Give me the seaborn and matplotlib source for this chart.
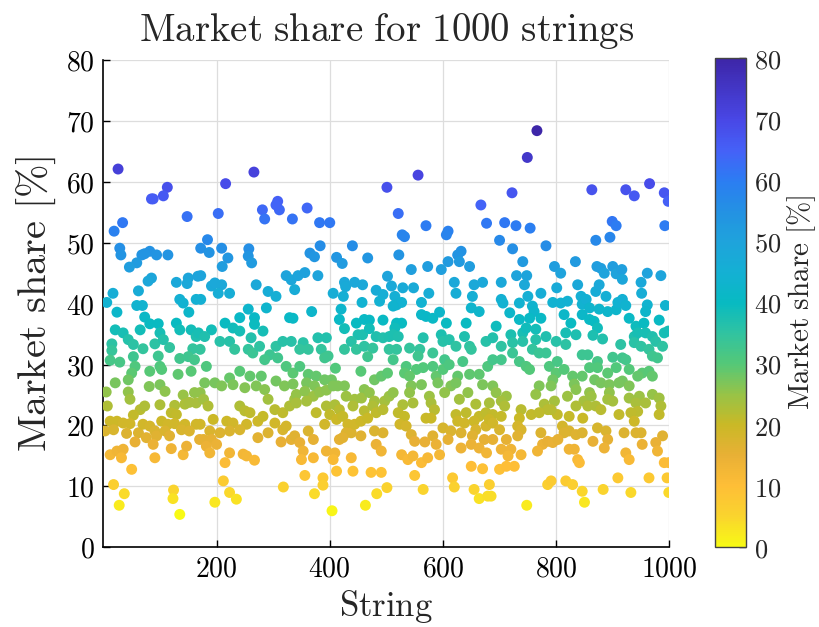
import matplotlib
matplotlib.use("Agg")
import numpy as np
import pandas as pd
import matplotlib.pyplot as plt
import seaborn as sns
from matplotlib.colors import LinearSegmentedColormap, Normalize
from matplotlib.cm import ScalarMappable

# ---- data: (string index, market share %) ----
strip_a = [(26,62.1),(113,59.1),(106,57.7),(85,57.2),(88,57.2),(148,54.3),(34,53.3),(19,51.9),(29,49.1),(31,48.0),
    (68,48.0),(82,48.6),(94,48.0),(114,48.0),(73,48.2),(59,46.7),(46,46.0),(85,44.2),(79,43.7),(150,44.2),(148,43.3),
    (129,43.5),(167,44.5),(17,41.7),(62,42.1),(6,40.2),(24,38.6),(59,39.7),(69,39.7),(135,40.7),(141,40.1),(151,38.6),
    (164,40.7),(73,37.8),(21,35.7),(35,35.2),(65,35.7),(82,36.7),(97,36.7),(100,35.2),(129,36.8),(135,35.7),(155,35.7),
    (164,34.6),(15,33.4),(15,32.3),(44,34.1),(53,33.3),(70,32.6),(91,33.4),(117,32.8),(106,34.1),(158,32.6),(12,30.7),
    (29,30.4),(53,31.3),(56,29.7),(50,28.6),(97,31.4),(100,29.7),(135,31.0),(150,31.3),(161,30.8),(82,28.9),(103,29.2),
    (132,28.4),(155,28.9),(21,27.0),(5,25.5),(44,27.5),(44,25.5),(47,24.3),(81,26.4),(100,26.7),(109,25.6),(141,25.0),
    (161,25.4),(164,23.7),(7,23.2),(65,22.6),(73,23.2),(100,23.4),(126,23.3),(120,22.1),(129,21.8),(144,23.5),(152,23.8),
    (53,21.7),(12,20.7),(24,20.7),(35,20.4),(47,20.3),(103,20.7),(114,20.2),(126,20.3),(144,20.2),(164,20.2),(3,19.1),
    (18,19.3),(41,18.7),(62,18.8),(70,20.2),(82,19.9),(91,19.1),(76,18.0),(94,18.3),(109,19.1),(117,18.3),(138,19.3),
    (152,19.1),(170,17.7),(56,17.3),(88,16.9),(12,15.2),(24,15.8),(35,16.1),(32,14.7),(91,14.7),(120,16.2),(141,15.2),
    (147,16.6),(50,12.8),(18,10.3),(37,8.8),(28,6.9),(124,9.4),(123,8.0),(135,5.4)]

strip_b = [(266,61.6),(216,59.7),(308,56.8),(311,55.4),(305,56.2),(281,55.4),(285,53.9),(334,53.9),(203,54.8),(184,50.5),
    (172,49.1),(187,48.4),(209,49.1),(220,47.5),(210,46.1),(257,49.0),(256,47.8),(262,46.7),(172,44.6),(191,42.9),
    (197,43.4),(209,43.1),(203,41.7),(223,41.7),(172,40.7),(270,43.1),(291,42.0),(288,39.3),(305,41.2),(323,44.6),
    (332,43.9),(338,42.3),(256,39.1),(241,37.7),(267,37.7),(267,36.6),(215,36.8),(229,36.0),(241,35.5),(191,35.7),
    (168,35.2),(179,34.6),(282,35.5),(261,34.4),(329,37.7),(206,33.8),(223,33.8),(232,32.5),(256,32.5),(264,31.9),
    (276,33.0),(294,31.6),(305,33.0),(317,33.8),(332,33.8),(171,32.5),(182,29.7),(285,30.8),(308,31.1),(323,29.7),
    (335,28.6),(241,28.9),(223,27.8),(259,28.1),(179,27.0),(197,27.0),(209,26.5),(279,28.1),(270,26.5),(285,25.9),
    (305,27.3),(320,26.5),(335,26.8),(250,26.2),(229,26.7),(171,25.4),(177,24.3),(185,23.2),(194,21.0),(241,23.2),
    (250,22.4),(259,22.1),(291,24.3),(303,22.6),(317,22.1),(329,23.2),(338,24.3),(218,20.7),(229,20.4),(253,20.2),
    (273,20.7),(282,21.5),(171,20.2),(188,19.1),(206,18.8),(223,19.1),(241,19.3),(303,20.4),(317,19.3),(323,19.9),
    (177,17.7),(191,17.7),(182,16.6),(200,16.9),(273,18.0),(291,18.8),(314,17.3),(332,17.7),(188,15.5),(223,15.5),
    (215,13.9),(247,15.3),(253,15.0),(267,14.3),(212,10.9),(223,9.0),(235,7.9),(197,7.4),(318,9.9)]

strip_c = [(501,59.1),(360,55.7),(382,53.3),(400,53.3),(383,49.5),(365,48.3),(373,47.7),(440,49.5),(467,47.5),(412,47.6),
    (422,46.6),(502,44.5),(344,44.6),(356,45.1),(379,44.6),(426,43.5),(428,42.8),(444,43.5),(458,43.1),(406,41.7),
    (424,41.2),(482,42.2),(494,41.5),(488,40.4),(457,40.2),(420,39.1),(368,38.7),(335,37.6),(417,37.4),(426,35.9),
    (447,36.8),(461,37.4),(470,37.3),(494,37.3),(450,34.9),(458,34.9),(470,35.9),(482,34.6),(494,34.4),(505,34.6),
    (379,34.4),(394,34.4),(353,33.6),(347,32.5),(362,32.5),(385,32.5),(391,31.1),(397,31.4),(426,32.5),(438,33.8),
    (447,32.5),(461,33.0),(476,32.7),(467,31.3),(505,32.5),(347,29.7),(362,28.4),(359,27.0),(376,28.1),(373,26.5),
    (410,29.4),(391,27.5),(403,27.5),(455,28.9),(479,27.5),(491,28.1),(502,28.6),(426,26.5),(414,26.5),(461,25.9),
    (341,25.1),(356,25.6),(371,24.8),(382,25.5),(394,25.8),(406,26.5),(429,24.8),(444,24.3),(456,24.5),(470,25.4),
    (479,24.0),(497,24.0),(505,24.8),(341,23.7),(359,24.0),(376,22.1),(394,23.2),(409,23.4),(417,22.6),(400,21.8),
    (412,21.0),(423,21.5),(441,23.2),(461,22.4),(476,23.2),(482,22.1),(494,22.6),(391,20.2),(432,20.2),(429,18.8),
    (438,18.8),(444,20.2),(455,20.7),(467,21.2),(338,18.3),(362,19.1),(371,17.7),(417,17.7),(423,18.0),(455,18.3),
    (479,19.1),(494,18.8),(482,16.9),(491,15.8),(347,17.2),(353,15.8),(350,14.4),(371,14.7),(394,15.8),(409,15.5),
    (406,14.4),(438,14.7),(356,11.8),(388,11.4),(388,10.2),(412,12.5),(441,12.5),(473,12.3),(491,12.3),(373,8.8),
    (404,6.0),(463,6.9),(483,8.8),(501,9.8)]

strip_d = [(556,61.1),(667,56.2),(677,53.2),(521,54.8),(570,52.8),(528,51.3),(532,51.0),(609,51.9),(606,51.3),(522,48.0),
    (632,48.6),(626,48.0),(629,46.9),(609,46.9),(597,45.6),(647,46.1),(544,45.6),(573,46.1),(509,42.9),(529,42.6),
    (548,42.6),(620,43.5),(623,41.7),(655,43.1),(670,43.5),(515,41.2),(518,39.8),(527,40.2),(512,39.6),(575,41.7),
    (562,40.2),(652,41.2),(650,39.3),(664,38.7),(562,38.2),(570,37.9),(582,37.6),(594,38.6),(518,36.8),(527,36.8),
    (515,36.0),(512,34.9),(606,36.8),(641,36.8),(676,33.8),(565,34.4),(597,34.9),(600,33.8),(611,34.1),(623,33.0),
    (638,34.6),(647,33.0),(650,32.5),(521,34.6),(518,32.5),(541,32.7),(559,32.5),(556,31.4),(582,31.9),(603,30.8),
    (635,30.5),(512,30.8),(535,29.7),(532,28.6),(553,29.2),(541,28.1),(565,29.5),(582,29.7),(588,28.1),(600,29.2),
    (611,30.0),(626,28.1),(647,28.4),(664,28.4),(679,29.7),(562,26.7),(544,26.5),(591,27.0),(614,26.5),(623,27.0),
    (670,26.7),(512,25.4),(541,25.4),(576,24.8),(603,25.4),(644,25.4),(529,23.4),(547,23.7),(579,23.7),(629,24.3),
    (658,23.5),(521,22.1),(532,21.5),(585,22.6),(623,21.8),(641,22.1),(664,21.5),(676,22.1),(570,21.2),(579,21.2),
    (626,20.7),(638,20.4),(655,20.7),(524,20.2),(535,19.9),(600,19.6),(614,19.1),(658,19.3),(676,19.9),(544,18.5),
    (550,17.4),(582,18.3),(588,16.9),(609,17.7),(632,18.8),(652,18.3),(673,17.7),(568,17.3),(632,16.3),(650,16.9),
    (664,16.3),(527,15.2),(538,14.4),(547,15.0),(562,13.9),(573,14.7),(594,15.2),(650,13.3),(670,12.9),(550,11.8),
    (617,11.4),(620,9.9),(565,9.5),(655,9.5),(664,8.0),(679,8.4)]

strip_e = [(766,68.4),(749,64.0),(722,58.2),(709,53.3),(729,52.8),(754,52.4),(700,50.4),(723,49.0),(782,49.5),(741,46.9),
    (730,44.6),(748,44.6),(744,43.1),(703,43.5),(797,46.1),(808,45.0),(834,46.9),(838,43.1),(801,42.6),(773,41.7),
    (703,40.7),(706,40.1),(735,40.1),(750,41.2),(758,39.6),(761,38.7),(794,40.2),(808,40.1),(820,40.4),(844,41.2),
    (846,39.9),(718,38.5),(735,37.4),(753,37.6),(773,37.6),(814,38.2),(826,36.8),(846,38.2),(694,36.3),(688,34.4),
    (720,34.9),(741,35.2),(747,36.0),(764,35.8),(782,34.6),(800,33.8),(817,35.2),(835,34.9),(817,33.3),(703,33.0),
    (723,33.6),(741,33.8),(764,34.1),(758,32.5),(770,31.9),(782,31.9),(846,31.6),(688,30.8),(703,30.8),(723,31.9),
    (735,30.5),(747,29.7),(753,29.2),(788,29.7),(802,30.5),(800,28.6),(794,27.5),(814,29.2),(829,28.1),(846,28.1),
    (688,26.5),(694,25.4),(712,24.8),(770,26.5),(764,25.1),(791,26.5),(832,26.8),(835,25.9),(820,24.8),(849,24.0),
    (682,23.7),(703,24.0),(709,23.2),(779,23.5),(785,22.6),(797,24.0),(738,22.6),(756,21.8),(770,22.1),(802,21.8),
    (823,21.5),(835,23.2),(688,21.8),(682,21.0),(703,21.5),(735,21.2),(791,22.6),(688,20.4),(700,19.3),(732,19.9),
    (738,19.3),(811,19.9),(823,19.1),(688,17.7),(712,17.7),(732,18.3),(773,18.8),(814,18.8),(835,18.5),(846,18.8),
    (776,16.9),(785,17.4),(794,17.2),(803,17.7),(823,16.1),(832,16.1),(677,15.5),(703,16.1),(720,16.1),(715,15.0),
    (738,15.2),(767,15.8),(838,14.4),(841,13.9),(700,12.8),(712,13.3),(726,13.3),(682,10.3),(685,8.4),(785,10.3),
    (791,10.9),(817,10.9),(829,10.3),(846,9.2),(748,6.9)]

strip_f = [(863,58.7),(923,58.7),(938,57.7),(965,59.7),(991,58.2),(998,56.8),(899,53.5),(906,52.8),(895,50.9),(870,50.4),
    (992,52.8),(872,46.1),(879,45.8),(885,45.0),(900,46.1),(906,44.9),(916,45.6),(917,44.0),(961,45.0),(950,43.5),
    (951,41.7),(985,44.6),(870,42.0),(876,43.1),(888,41.2),(853,40.7),(859,39.3),(876,39.1),(891,38.7),(906,39.0),
    (909,40.2),(917,40.7),(923,39.7),(961,39.8),(958,38.7),(993,39.7),(859,37.4),(867,37.1),(873,36.0),(929,37.6),
    (941,36.3),(955,36.8),(982,37.3),(865,34.8),(882,34.2),(914,33.3),(938,34.6),(944,35.2),(958,35.2),(970,34.6),
    (991,35.2),(998,35.5),(938,33.6),(950,33.0),(964,32.5),(976,33.8),(988,33.0),(970,31.4),(979,31.1),(856,31.6),
    (873,30.5),(900,31.2),(917,31.1),(923,30.8),(906,29.5),(929,29.2),(952,28.6),(964,28.9),(970,28.1),(944,28.1),
    (859,29.5),(873,29.5),(891,28.6),(868,27.5),(879,27.0),(894,26.7),(917,27.3),(929,26.5),(911,27.0),(859,25.4),
    (862,24.8),(894,25.4),(891,24.3),(900,24.0),(929,24.5),(947,24.8),(970,25.1),(982,24.5),(856,23.2),(870,23.2),
    (879,22.6),(847,21.2),(911,21.8),(941,23.7),(944,22.3),(958,23.7),(985,23.2),(932,22.1),(938,20.7),(982,21.8),
    (873,19.6),(888,19.1),(891,17.7),(920,18.8),(941,18.8),(950,18.8),(988,18.3),(865,17.4),(885,16.3),(923,15.5),
    (929,14.4),(952,16.9),(976,17.2),(979,15.8),(991,13.9),(999,13.9),(909,11.4),(964,11.4),(996,11.4),(883,9.5),
    (932,9.0),(999,9.0),(850,7.4)]

x_ticks = [200, 400, 600, 800, 1000]
y_ticks = [0, 10, 20, 30, 40, 50, 60, 70, 80]
cbar_ticks = [0, 10, 20, 30, 40, 50, 60, 70, 80]

title_text = r"$\mathrm{Market\ share\ for\ 1000\ strings}$"
xlabel_text = r"$\mathrm{String}$"
ylabel_text = r"$\mathrm{Market\ share\ [\%]}$"
cbar_label_text = r"$\mathrm{Market\ share\ [\%]}$"

# ---- styling ----
sns.set_theme(style="white")
plt.rcParams["mathtext.fontset"] = "cm"
plt.rcParams["font.family"] = ["DejaVu Serif"]

# reversed parula-like colormap (value 0 -> yellow, 80 -> indigo)
cmap = LinearSegmentedColormap.from_list("parula_r", [
    (0.0000, (0.972, 0.980, 0.080)),
    (0.0625, (0.980, 0.830, 0.180)),
    (0.1250, (0.995, 0.745, 0.215)),
    (0.1875, (0.910, 0.690, 0.210)),
    (0.2500, (0.790, 0.725, 0.150)),
    (0.3125, (0.590, 0.765, 0.280)),
    (0.3750, (0.330, 0.785, 0.470)),
    (0.4375, (0.190, 0.765, 0.630)),
    (0.5000, (0.030, 0.730, 0.760)),
    (0.5625, (0.080, 0.690, 0.830)),
    (0.6250, (0.120, 0.640, 0.860)),
    (0.6875, (0.140, 0.570, 0.890)),
    (0.7500, (0.170, 0.490, 0.950)),
    (0.8125, (0.270, 0.380, 0.970)),
    (0.8750, (0.285, 0.280, 0.900)),
    (1.0000, (0.240, 0.150, 0.660)),
])

pairs = strip_a + strip_b + strip_c + strip_d + strip_e + strip_f
df = pd.DataFrame(pairs, columns=["String", "Share"])

# points are coloured over the data range (as in the reference), colour bar shows 0-80
point_norm = Normalize(df["Share"].min(), df["Share"].max())
bar_norm = Normalize(0, 80)

fig = plt.figure(figsize=(8.19, 6.27), dpi=100)
ax = fig.add_axes([0.1262, 0.1271, 0.6911, 0.7772])
cax = fig.add_axes([0.873, 0.1271, 0.0375, 0.780])

ax.grid(True, color="#dddddd", linewidth=0.9)
ax.set_axisbelow(True)
sns.scatterplot(data=df, x="String", y="Share", hue="Share", palette=cmap,
                hue_norm=point_norm, s=62, linewidth=0, legend=False, ax=ax, zorder=3)

ax.set_xlim(0, 1000)
ax.set_ylim(0, 80)
ax.set_xticks(x_ticks, labels=[f"${t}$" for t in x_ticks])
ax.set_yticks(y_ticks, labels=[f"${t}$" for t in y_ticks])
ax.tick_params(direction="in", length=5, width=1, labelsize=20, colors="black",
               bottom=True, left=True, pad=6)
for side in ["top", "right"]:
    ax.spines[side].set_visible(False)
for side in ["left", "bottom"]:
    ax.spines[side].set_color("black")
    ax.spines[side].set_linewidth(1.2)

ax.set_title(title_text, fontsize=28, pad=14)
ax.set_xlabel(xlabel_text, fontsize=25, labelpad=4)
ax.set_ylabel(ylabel_text, fontsize=29, labelpad=6)

sm = ScalarMappable(norm=bar_norm, cmap=cmap)
cb = fig.colorbar(sm, cax=cax)
cb.set_ticks(cbar_ticks, labels=[f"${t}$" for t in cbar_ticks])
cb.ax.tick_params(direction="in", length=5, width=1, labelsize=19, colors="#262626", pad=6)
cb.outline.set_edgecolor("#444444")
cb.outline.set_linewidth(1.0)
cb.set_label(cbar_label_text, fontsize=21, color="#262626", labelpad=3)

fig.savefig("out.png", dpi=100)
